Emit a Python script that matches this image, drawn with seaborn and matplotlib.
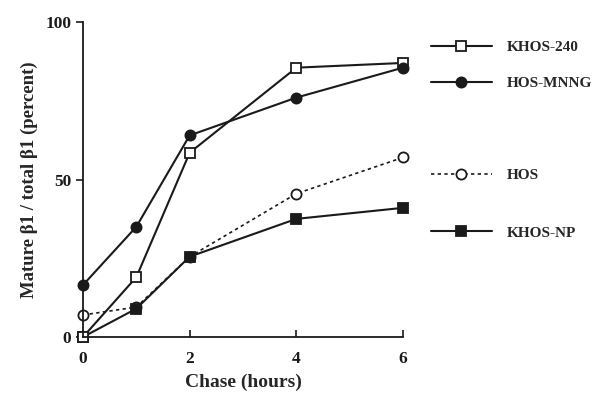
import pandas as pd
import numpy as np
import matplotlib
matplotlib.use("Agg")
import matplotlib.pyplot as plt
import seaborn as sns

# Datos
hours = [0, 1, 2, 4, 6]
khos_240 = [0, 19, 58.5, 85.5, 87]
hos_mnng = [16.5, 35, 64, 76, 85.5]
hos = [7, 9.5, 25.5, 45.5, 57]
khos_np = [0, 9, 25.5, 37.5, 41]
labels = ["KHOS-240", "HOS-MNNG", "HOS", "KHOS-NP"]

sns.set_style("ticks")
plt.rcParams["font.family"] = ["Liberation Serif", "DejaVu Serif"]
plt.rcParams["font.weight"] = "bold"

ink = "#1a1a1a"
fig = plt.figure(figsize=(6.02, 3.97), dpi=100)
ax = fig.add_axes([83 / 602, 1 - 337 / 397, 320 / 602, 315 / 397])

series = [
    (khos_240, "s", "white", "-"),
    (hos_mnng, "o", ink, "-"),
    (hos, "o", "white", (0, (2, 2))),
    (khos_np, "s", ink, "-"),
]
# la linea punteada primero, las continuas encima
order = [2, 3, 0, 1]
handles = {}
for i in order:
    vals, mk, face, ls = series[i]
    df = pd.DataFrame({"hours": hours, "value": vals})
    sns.lineplot(data=df, x="hours", y="value", ax=ax, color=ink,
                 linewidth=1.5 if ls == "-" else 1.2, linestyle=ls,
                 marker=mk, markersize=7.3, markerfacecolor=face,
                 markeredgecolor=ink, markeredgewidth=1.3, clip_on=False)
    handles[i] = ax.get_lines()[-1]

ax.set_xlim(0, 6)
ax.set_ylim(0, 100)
ax.set_xticks([0, 2, 4, 6])
ax.set_yticks([0, 50, 100])
ax.tick_params(axis="x", direction="in", length=5, width=1.2, colors=ink,
               labelsize=12.5, pad=10)
ax.tick_params(axis="y", direction="out", length=5, width=1.2, colors=ink,
               labelsize=12.5)
for s in ["left", "bottom"]:
    ax.spines[s].set_linewidth(1.3)
    ax.spines[s].set_color(ink)
sns.despine(ax=ax)
ax.set_xlabel("Chase (hours)", fontsize=14, fontweight="bold", labelpad=5)
ax.set_ylabel("Mature β1 / total β1 (percent)", fontsize=13.5, fontweight="bold", labelpad=5)

# leyenda con separacion desigual como en el original
ypos = [47, 83, 175, 233]
for i, y in enumerate(ypos):
    fig.legend([handles[i]], [labels[i]], loc="center left",
               bbox_to_anchor=(423 / 602, 1 - y / 397), frameon=False,
               borderpad=0, handlelength=4.0, handletextpad=1.0,
               prop={"size": 11, "weight": "bold"})

fig.savefig("out.png", dpi=100)
